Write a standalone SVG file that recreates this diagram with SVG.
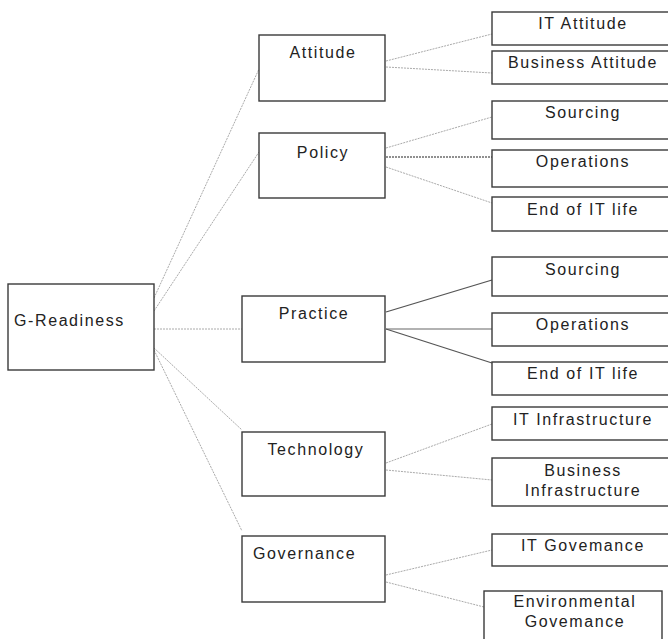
<svg xmlns="http://www.w3.org/2000/svg" width="668" height="639" viewBox="0 0 668 639">
<style>
rect{fill:#fff;stroke:#3a3a3a;stroke-width:1.4}
text{font-family:"Liberation Sans",Arial,sans-serif;font-size:16px;fill:#222;letter-spacing:1.6px}
.c{text-anchor:middle}
.dot{stroke:#aaa;stroke-width:1;stroke-dasharray:2 1;fill:none}
.dark{stroke:#222;stroke-width:1.2;stroke-dasharray:2 1;fill:none}
.sol{stroke:#555;stroke-width:1.3;fill:none}
.solg{stroke:#999;stroke-width:1.3;fill:none}
</style>
<rect x="0" y="0" width="668" height="639" style="fill:#fff;stroke:none"/>
<g id="connectors">
<line class="dot" x1="154" y1="298" x2="259" y2="69"/>
<line class="dot" x1="154" y1="311" x2="259" y2="152"/>
<line class="dot" x1="154" y1="329" x2="242" y2="329"/>
<line class="dot" x1="154" y1="348" x2="242" y2="430"/>
<line class="dot" x1="154" y1="350" x2="242" y2="531"/>
<line class="dot" x1="386" y1="61" x2="492" y2="34"/>
<line class="dot" x1="386" y1="67" x2="492" y2="73"/>
<line class="dot" x1="386" y1="148" x2="492" y2="117"/>
<line class="dark" x1="386" y1="157" x2="492" y2="157"/>
<line class="dot" x1="386" y1="167" x2="492" y2="203"/>
<line class="sol" x1="386" y1="312" x2="492" y2="280"/>
<line class="solg" x1="386" y1="329" x2="492" y2="329"/>
<line class="sol" x1="386" y1="329" x2="492" y2="363"/>
<line class="dot" x1="386" y1="463" x2="492" y2="424"/>
<line class="dot" x1="386" y1="470" x2="492" y2="480"/>
<line class="dot" x1="386" y1="575" x2="492" y2="550"/>
<line class="dot" x1="386" y1="582" x2="484" y2="607"/>
</g>
<g id="g-readiness"><rect x="8" y="284" width="146" height="86"/><text x="14" y="326">G-Readiness</text></g>
<g id="attitude"><rect x="259" y="35" width="126" height="66"/><text class="c" x="323" y="58">Attitude</text></g>
<g id="policy"><rect x="259" y="133" width="126" height="65"/><text class="c" x="323" y="158">Policy</text></g>
<g id="practice"><rect x="242" y="296" width="143" height="66"/><text class="c" x="314" y="319">Practice</text></g>
<g id="technology"><rect x="242" y="432" width="143" height="64"/><text class="c" x="316" y="455">Technology</text></g>
<g id="governance"><rect x="242" y="536" width="143" height="66"/><text x="253" y="559">Governance</text></g>
<g id="it-attitude"><rect x="492" y="12" width="182" height="33"/><text class="c" x="583" y="29">IT Attitude</text></g>
<g id="business-attitude"><rect x="492" y="51" width="182" height="33"/><text class="c" x="583" y="68">Business Attitude</text></g>
<g id="policy-sourcing"><rect x="492" y="101" width="182" height="38"/><text class="c" x="583" y="118">Sourcing</text></g>
<g id="policy-operations"><rect x="492" y="150" width="182" height="37"/><text class="c" x="583" y="167">Operations</text></g>
<g id="policy-end"><rect x="492" y="197" width="182" height="34"/><text class="c" x="583" y="215">End of IT life</text></g>
<g id="practice-sourcing"><rect x="492" y="257" width="182" height="39"/><text class="c" x="583" y="275">Sourcing</text></g>
<g id="practice-operations"><rect x="492" y="313" width="182" height="33"/><text class="c" x="583" y="330">Operations</text></g>
<g id="practice-end"><rect x="492" y="362" width="182" height="33"/><text class="c" x="583" y="379">End of IT life</text></g>
<g id="it-infrastructure"><rect x="492" y="407" width="182" height="33"/><text class="c" x="583" y="425">IT Infrastructure</text></g>
<g id="business-infrastructure"><rect x="492" y="458" width="182" height="48"/><text class="c" x="583" y="476">Business</text><text class="c" x="583" y="496">Infrastructure</text></g>
<g id="it-governance"><rect x="492" y="534" width="182" height="32"/><text class="c" x="583" y="551">IT Govemance</text></g>
<g id="environmental-governance"><rect x="484" y="591" width="178" height="60"/><text class="c" x="575" y="607">Environmental</text><text class="c" x="575" y="627">Govemance</text></g>
</svg>
